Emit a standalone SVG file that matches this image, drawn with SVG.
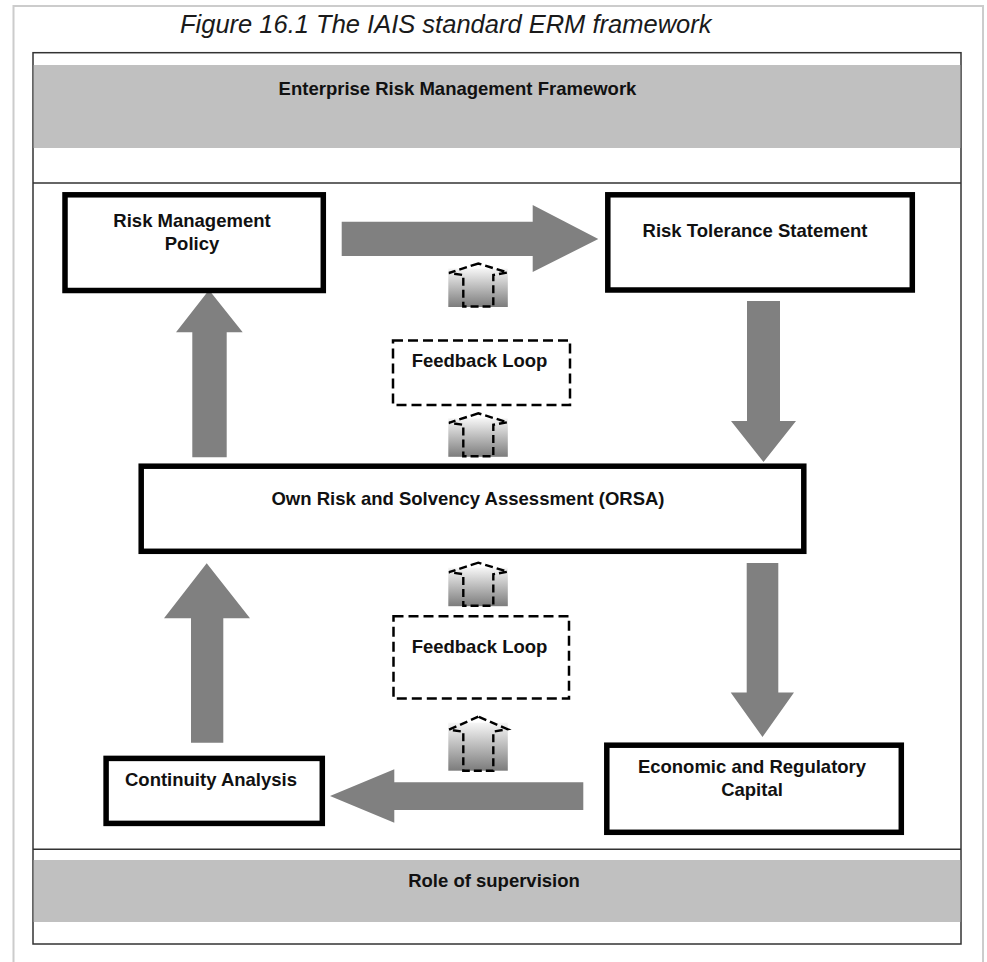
<svg xmlns="http://www.w3.org/2000/svg" width="987" height="962" viewBox="0 0 987 962">
<style>
  .lbl{font-family:"Liberation Sans",Arial,sans-serif;font-weight:bold;font-size:18.5px;fill:#111;text-anchor:middle}
  .box{fill:#fff;stroke:#000;stroke-width:5.5}
  .fb{fill:#fff;stroke:#000;stroke-width:2.5;stroke-dasharray:10 5}
  .big{fill:#808080}
  .sm{fill:none;stroke:#000;stroke-width:2.4;stroke-dasharray:8 4}
  .band{fill:#c0c0c0}
</style>
<defs>
  <linearGradient id="gr" x1="0" y1="0" x2="0" y2="1">
    <stop offset="0" stop-color="#f6f6f6"/>
    <stop offset="1" stop-color="#7c7c7c"/>
  </linearGradient>
</defs>
<rect width="987" height="962" fill="#fff"/>
<rect x="13.5" y="6" width="969.5" height="1000" fill="none" stroke="#cccccc" stroke-width="2"/>
<text x="180" y="33" font-family="Liberation Sans, Arial, sans-serif" font-style="italic" font-size="25.5" fill="#1a1a1a">Figure 16.1 The IAIS standard ERM framework</text>

<g id="frame">
  <rect x="33" y="52.7" width="928" height="891.3" fill="none" stroke="#333" stroke-width="1.5"/>
  <line x1="33" y1="183" x2="961" y2="183" stroke="#333" stroke-width="1.5"/>
  <line x1="33" y1="849.3" x2="961" y2="849.3" stroke="#333" stroke-width="1.5"/>
</g>
<g id="erm-band">
  <rect class="band" x="33.7" y="65" width="926.6" height="83"/>
  <text class="lbl" x="457.5" y="95">Enterprise Risk Management Framework</text>
</g>
<g id="supervision-band">
  <rect class="band" x="33.7" y="860" width="926.6" height="62"/>
  <text class="lbl" x="494" y="887">Role of supervision</text>
</g>

<g id="connectors">
  <path class="big" d="M341.7,221.7 H532.7 V205 L598.3,239 L532.7,272 V256 H341.7 Z"/>
  <path class="big" d="M747,301 H780 V421 H796 L763.5,462 L731,421 H747 Z"/>
  <path class="big" d="M746.7,563 H778.3 V692.5 H794 L762.5,737 L730.7,692.5 H746.7 Z"/>
  <path class="big" d="M583.3,782.3 V810 H394.3 V822.7 L330,796 L394.3,769.3 V782.3 Z"/>
  <path class="big" d="M191,742.7 V618.3 H164 L206.7,563.3 L250,618.3 H223.3 V742.7 Z"/>
  <path class="big" d="M192.3,457.3 V332.3 H176 L209,290 L242.7,332.3 H226.7 V457.3 Z"/>
  <g id="fb-arrow-1" transform="translate(0,263.5)">
    <rect x="448.3" y="5" width="59.5" height="38.5" fill="url(#gr)"/>
    <path class="sm" d="M478.3,0 L449,9.5 L463.3,11.5 V43 H493.3 V11.5 L507.5,9 Z"/>
  </g>
  <g id="fb-arrow-2" transform="translate(0,413.3)">
    <rect x="448.3" y="5" width="59.5" height="38.5" fill="url(#gr)"/>
    <path class="sm" d="M478.3,0 L449,9.5 L463.3,11.5 V43 H493.3 V11.5 L507.5,9 Z"/>
  </g>
  <g id="fb-arrow-3" transform="translate(0,562.7)">
    <rect x="448.3" y="5" width="59.5" height="38.5" fill="url(#gr)"/>
    <path class="sm" d="M478.3,0 L449,9.5 L463.3,11.5 V43 H493.3 V11.5 L507.5,9 Z"/>
  </g>
  <g id="fb-arrow-4" transform="translate(0,716.7)">
    <rect x="448.3" y="6" width="59.5" height="48" fill="url(#gr)"/>
    <path class="sm" d="M478.3,0 L449,13 L463.3,15 V54 H493.3 V15 L507.5,12.5 Z"/>
  </g>
</g>

<g id="risk-management-policy">
  <rect class="box" x="65" y="194.8" width="258.3" height="95.7"/>
  <text class="lbl" x="192" y="226.7">Risk Management</text>
  <text class="lbl" x="192" y="250">Policy</text>
</g>
<g id="risk-tolerance-statement">
  <rect class="box" x="607.8" y="194.8" width="304.5" height="95.2"/>
  <text class="lbl" x="755" y="237">Risk Tolerance Statement</text>
</g>
<g id="feedback-loop-1">
  <rect class="fb" x="393" y="340.5" width="177" height="64.5"/>
  <text class="lbl" x="479.5" y="367.3">Feedback Loop</text>
</g>
<g id="orsa">
  <rect class="box" x="141.2" y="466.2" width="662.6" height="85.1"/>
  <text class="lbl" x="468" y="505">Own Risk and Solvency Assessment (ORSA)</text>
</g>
<g id="feedback-loop-2">
  <rect class="fb" x="393.5" y="616.2" width="175.5" height="82.3"/>
  <text class="lbl" x="479.5" y="652.7">Feedback Loop</text>
</g>
<g id="continuity-analysis">
  <rect class="box" x="106.1" y="758.4" width="216.2" height="65"/>
  <text class="lbl" x="211" y="786">Continuity Analysis</text>
</g>
<g id="economic-regulatory-capital">
  <rect class="box" x="606.8" y="745.2" width="294.5" height="87.1"/>
  <text class="lbl" x="752" y="773">Economic and Regulatory</text>
  <text class="lbl" x="752" y="796">Capital</text>
</g>
</svg>
